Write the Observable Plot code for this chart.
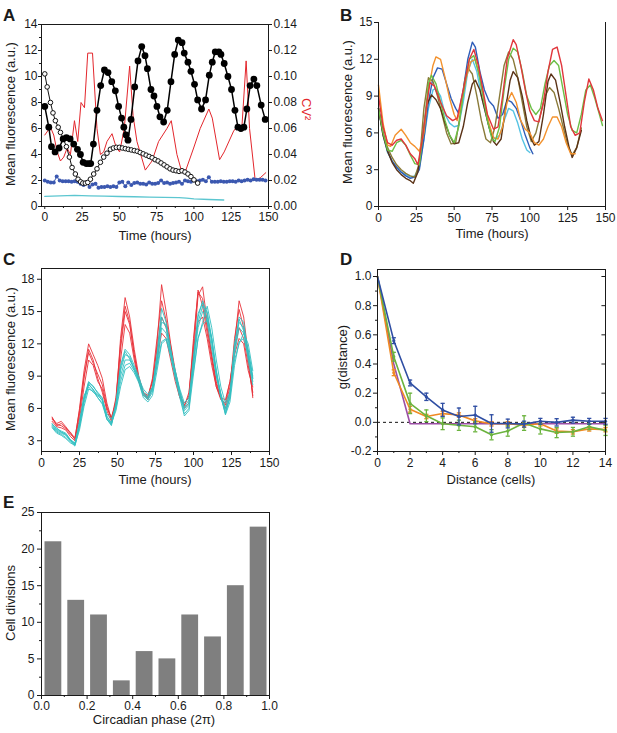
<!DOCTYPE html>
<html><head><meta charset="utf-8">
<script src="https://cdn.jsdelivr.net/npm/d3@7"></script>
<script src="https://cdn.jsdelivr.net/npm/@observablehq/plot@0.6"></script>
<style>
body{margin:0;background:#fff;}
#c{position:relative;width:617px;height:733px;overflow:hidden;background:#fff;}
#c > svg{position:absolute;}
</style></head><body><div id="c"></div>
<script>
// ---------- Panel A ----------
const aBlackT = [0,2.7,4.5,6.9,9.6,12.3,14.5,17.0,19.4,21.9,23.9,25.7,27.9,29.7,30.8,32.6,35.0,37.5,40.0,42.4,44.9,47.3,49.5,51.5,53.0,54.5,55.8,57.8,60.3,62.5,65.0,67.2,68.8,71.2,73.2,75.2,77.2,79.7,82.1,84.6,87.1,89.5,92.0,93.5,96.0,98.0,100.4,102.5,105.1,107.8,110.3,112.3,114.3,116.7,118.1,120.3,122.8,125.2,127.5,129.5,131.5,133.5,135.5,137.7,140.2,142.2,145.1,147.8];
const aBlackV = [7.7,6.1,4.6,4.2,4.5,5.2,5.3,5.2,4.8,4.4,4.0,3.4,3.3,3.3,3.3,4.8,7.4,9.3,10.5,10.3,9.6,8.9,7.7,6.8,6.1,5.5,5.1,6.7,9.2,11.2,12.3,11.6,10.6,9.0,8.5,7.7,6.9,6.5,7.4,9.6,11.7,12.8,12.6,11.8,11.1,10.4,9.4,8.2,7.5,8.2,10.1,11.1,11.9,11.9,11.7,11.0,10.0,9.0,7.4,6.1,6.0,6.1,7.5,9.3,9.8,9.3,7.8,6.7];
const aOpenT = [0,1.6,3.8,5.5,7.1,9,10.5,12.5,14.5,16.5,18.3,20.5,22.3,24,25.5,27.2,28.8,30.6,32.8,35,37.3,39.5,41.7,44,46,48,50,52,54,56,58,60,62,64,66,68,70,72,74,76,78,80,82,84,86,88,90,92,94,96,98,100,102.5];
const aOpenV = [10.2,9.2,8.0,7.2,6.6,6.1,5.7,5.2,4.6,3.8,3.0,2.5,2.1,1.9,1.8,1.8,1.85,2.1,2.5,2.9,3.4,3.8,4.1,4.4,4.5,4.55,4.55,4.5,4.45,4.4,4.35,4.3,4.25,4.15,4.05,3.95,3.85,3.75,3.6,3.5,3.35,3.2,3.05,2.9,2.8,2.75,2.7,2.75,2.65,2.5,2.3,2.05,1.8];
const aBlueT = [0,2,4,6,8,10,12,14,16,18,20,22,24,26,28,30,32,34,36,38,40,42,44,46,48,50,52,54,56,58,60,62,64,66,68,70,72,74,76,78,80,82,84,86,88,90,92,94,96,98,100,102,104,106,108,110,112,114,116,118,120,122,124,126,128,130,132,134,136,138,140,142,144,146,148];
const aBlueV = [2.0,1.9,1.85,1.85,2.3,2.0,1.95,1.95,1.95,1.9,1.95,1.9,1.75,1.65,1.85,1.5,1.7,1.75,1.45,1.5,1.5,1.55,1.5,1.55,1.5,1.85,1.9,1.55,1.85,1.65,1.8,1.85,1.75,1.75,1.7,1.85,1.75,1.75,1.8,2.0,1.8,1.85,1.75,1.8,1.85,1.9,1.75,2.0,1.95,1.9,2.0,1.95,2.0,2.05,1.95,2.25,1.9,1.9,1.9,1.95,1.9,1.9,1.95,1.95,1.9,2.0,1.95,2.0,2.05,2.0,2.1,2.05,2.05,2.05,2.0];
const aCyanT = [0,10,20,30,40,50,60,70,80,90,95,100,110,120];
const aCyanV = [0.78,0.82,0.85,0.82,0.8,0.77,0.75,0.72,0.7,0.68,0.65,0.58,0.54,0.5];
const aRedT = [0,3.8,6,8.3,10.5,12.7,15,17.2,19.9,22.1,24.3,26.6,28.8,32,35,37.3,39.5,41.7,45.1,48,50.2,53.3,56.9,59.2,61.8,67.4,71.9,76.3,81.9,84.8,88.6,91.5,94.6,99.8,104.2,110,112.3,117.2,120.3,126.6,129.2,132.1,135,137.3,141.1,144.4,148.2];
const aRedCV = [0.055,0.061,0.055,0.042,0.035,0.038,0.045,0.04,0.066,0.05,0.08,0.076,0.118,0.118,0.06,0.04,0.042,0.05,0.056,0.045,0.042,0.06,0.108,0.07,0.05,0.028,0.035,0.05,0.06,0.066,0.04,0.028,0.028,0.045,0.06,0.075,0.068,0.036,0.042,0.058,0.062,0.06,0.112,0.06,0.02,0.022,0.026];
const aXTicks = [0,25,50,75,100,125,150];
const aXMinor = [12.5,37.5,62.5,87.5,112.5,137.5];
const aYTicks = [0,2,4,6,8,10,12,14];
const aYMinor = [1,3,5,7,9,11,13];
const aCVTicks = [0,0.02,0.04,0.06,0.08,0.10,0.12,0.14];

// ---------- Panel B ----------
const bRed = [[0,9.0],[3,6.5],[6,5.2],[9,5.0],[12,5.4],[15,5.5],[18,5.0],[21,4.3],[24,3.9],[26,3.4],[29,5.5],[32,8.5],[34,10.1],[37,9.8],[41,8.5],[45,7.4],[49,7.0],[52,7.2],[56,9.5],[60,12.0],[63,12.8],[66,11.5],[69,9.5],[72,7.5],[76,6.3],[79,6.5],[82,9.0],[85,12.0],[89,13.6],[91,13.2],[94,11.5],[97,9.5],[100,7.8],[103,7.0],[106,6.9],[109,8.5],[112,11.0],[115,12.8],[118,13.0],[121,11.5],[124,9.0],[127,6.5],[130,5.8],[133,6.0],[136,8.5],[139,10.4],[142,9.5],[145,8.0],[148,7.0]];
const bGreen = [[0,8.0],[3,6.0],[6,4.6],[9,4.5],[12,5.2],[15,5.4],[18,5.0],[21,4.2],[24,3.5],[27,3.4],[30,6.5],[33,10.0],[35,10.7],[38,10.0],[41,8.5],[44,7.0],[47,5.8],[50,5.2],[53,6.5],[57,10.0],[60,12.0],[63,12.3],[66,11.0],[69,9.0],[72,7.0],[75,5.5],[77,5.3],[80,6.5],[83,9.5],[86,12.0],[89,12.9],[92,12.6],[95,11.0],[98,9.0],[101,8.0],[104,7.5],[107,8.0],[110,10.0],[113,11.5],[116,11.9],[119,11.5],[122,9.5],[125,7.5],[128,6.2],[131,6.0],[134,7.5],[137,9.5],[140,9.9],[143,8.8],[146,7.5],[148,6.6]];
const bBlue = [[0,8.0],[3,6.0],[6,4.5],[9,3.7],[12,3.2],[15,2.8],[18,2.5],[21,2.3],[24,2.4],[27,3.0],[30,5.5],[33,8.5],[36,10.5],[39,11.3],[42,11.2],[45,10.0],[48,8.8],[51,8.0],[53,7.6],[56,9.5],[59,12.0],[62,13.4],[64,13.0],[67,11.0],[70,9.5],[73,8.6],[76,8.2],[79,7.2],[82,7.5],[85,8.7],[88,8.5],[91,8.0],[94,7.0],[97,5.8],[100,4.8],[102,4.3]];
const bCyan = [[0,8.0],[3,5.8],[6,4.4],[9,3.7],[12,3.2],[15,2.8],[18,2.6],[21,2.4],[24,2.5],[27,3.2],[30,5.5],[33,8.0],[36,9.5],[38,9.6],[41,9.0],[44,7.5],[47,6.8],[50,6.5],[53,6.6],[56,8.5],[59,11.0],[62,12.0],[65,11.0],[68,9.0],[71,7.5],[74,6.0],[77,5.5],[80,5.8],[83,7.0],[86,8.0],[89,7.8],[92,6.8],[95,5.5],[98,4.6],[100,4.4]];
const bOrange = [[0,9.9],[3,6.8],[6,5.0],[8,4.9],[11,5.8],[15,6.3],[18,5.8],[21,5.2],[24,4.9],[27,4.5],[30,6.0],[33,9.5],[36,11.5],[38,12.2],[41,12.0],[44,10.5],[47,8.8],[50,7.5],[52,7.0],[55,8.5],[58,10.5],[61,11.8],[64,12.0],[67,10.5],[70,8.5],[73,6.8],[76,5.6],[79,5.5],[82,6.5],[85,8.5],[88,9.3],[91,8.5],[94,7.0],[97,6.3],[100,6.0],[103,5.2],[106,5.0],[109,5.5],[112,6.5],[115,7.3],[118,7.3],[121,6.5],[124,5.2],[127,4.3],[130,4.3]];
const bDarkBrown = [[0,8.0],[3,5.8],[6,4.5],[9,3.6],[12,3.0],[15,2.6],[18,2.3],[21,2.1],[23,1.9],[26,2.8],[29,5.5],[32,8.3],[35,9.1],[38,8.7],[41,8.0],[44,6.8],[47,5.8],[50,5.1],[53,5.2],[56,6.5],[59,8.5],[62,10.0],[64,10.3],[67,9.5],[70,8.0],[73,6.5],[76,5.3],[78,5.0],[81,5.5],[84,8.0],[87,10.3],[89,11.0],[92,10.5],[95,9.0],[98,7.0],[101,5.5],[103,5.0],[106,5.3],[109,7.5],[112,10.2],[114,10.8],[117,10.3],[120,8.5],[123,6.5],[126,4.8],[128,4.0],[131,4.8],[134,6.2]];
const bOlive = [[0,8.0],[3,6.0],[6,4.8],[9,4.0],[12,3.4],[15,3.0],[18,2.7],[21,2.5],[24,2.4],[27,3.5],[30,8.0],[33,10.5],[36,10.2],[39,9.0],[42,7.5],[45,6.0],[48,5.1],[51,5.2],[54,7.5],[57,10.3],[59,11.3],[62,10.8],[65,9.0],[68,7.0],[71,5.5],[74,5.2],[77,6.5],[80,9.0],[83,11.5],[86,12.6],[89,12.0],[92,10.5],[95,8.5],[98,6.5],[101,5.3],[104,6.0],[107,7.5],[110,9.0],[113,9.7],[116,9.3],[119,8.0],[122,6.5],[125,5.0],[128,4.2],[131,4.8],[134,6.4]];
const bXTicks = [0,25,50,75,100,125,150];
const bYTicks = [0,3,6,9,12,15];

// ---------- Panel C ----------
const cT = [7,10,13,16,19,22,25,28,31,34,37,40,43,46,49,52,55,58,61,64,67,70,73,76,79,82,85,88,91,94,97,100,103,106,109,112,115,118,121,124,127,130,133,136,139];
const cRed1 = [5.2,4.4,4.6,4.2,3.8,3.1,6.0,9.5,12.0,11.0,10.0,8.8,6.5,5.0,6.5,12.5,16.3,14.5,11.5,9.0,7.5,6.8,8.0,12.0,17.5,15.0,12.0,9.5,7.5,6.0,6.5,11.0,16.5,17.3,14.0,11.0,8.5,7.0,6.0,7.5,12.0,16.0,14.5,11.0,7.0];
const cRed2 = [4.8,4.3,4.2,4.0,3.4,3.0,5.5,8.8,11.5,10.5,8.8,7.5,5.8,4.8,6.8,11.5,15.0,13.8,11.0,8.5,7.2,7.0,8.5,11.5,14.5,13.5,11.5,9.0,7.0,6.5,7.0,12.0,17.0,15.5,13.0,10.5,8.0,6.8,6.5,8.5,11.5,13.5,12.5,10.0,7.5];
const cRed3 = [5.0,4.5,4.4,4.1,3.6,3.2,5.0,8.0,10.5,10.0,8.5,7.8,6.0,5.2,6.5,10.5,13.8,13.0,10.5,8.5,7.5,7.2,8.5,10.5,13.0,12.5,10.5,8.5,7.0,6.2,7.5,11.5,14.0,14.5,12.5,10.0,8.0,7.0,6.8,8.5,11.0,12.5,12.0,9.5,8.0];
const cRed4 = [5.1,4.6,4.8,4.3,3.7,3.3,5.8,9.0,11.2,10.2,9.2,8.2,6.2,5.0,7.0,12.0,15.5,14.0,11.0,8.8,7.4,7.0,8.8,12.5,16.0,14.2,11.8,9.2,7.2,6.3,7.2,12.5,16.8,16.2,13.5,10.8,8.3,6.9,6.3,8.0,12.5,15.2,13.5,10.5,7.2];
const cCyan1 = [4.6,4.0,3.8,3.6,3.0,2.6,4.5,7.0,8.5,8.0,7.5,7.0,5.0,4.5,6.5,10.0,11.5,11.0,10.0,9.0,7.5,7.0,7.8,11.0,15.3,14.0,11.5,9.5,7.5,6.0,6.5,10.5,14.0,15.5,15.0,12.5,9.5,7.0,5.8,7.0,11.5,14.5,14.0,11.0,8.5];
const cCyan2 = [4.3,3.8,3.6,3.3,2.9,2.5,4.3,6.5,8.2,7.8,7.0,6.5,5.2,4.7,6.0,8.5,10.0,10.2,9.5,8.5,7.2,6.8,7.5,10.0,13.5,13.0,11.0,9.0,7.2,5.5,6.0,10.0,13.5,15.0,14.5,12.5,9.0,7.0,5.5,7.0,11.0,13.5,13.0,11.5,9.0];
const cCyan3 = [4.5,4.1,3.9,3.7,3.1,2.8,4.8,7.2,8.0,7.5,7.2,6.8,5.5,5.0,6.2,9.0,10.5,10.5,9.8,8.8,7.8,7.3,8.0,10.0,12.2,12.5,11.0,9.5,7.8,6.5,7.0,9.5,12.5,14.0,15.5,13.5,10.5,8.0,6.5,7.5,10.5,12.0,13.0,12.0,9.5];
const cCyan4 = [4.4,3.9,3.7,3.5,3.0,2.7,4.4,6.8,8.3,7.7,7.3,6.7,5.0,4.4,6.3,9.5,11.0,10.8,9.7,8.7,7.3,6.9,7.7,10.5,14.5,13.5,11.2,9.2,7.4,5.8,6.3,10.2,14.5,16.0,14.8,12.0,9.3,7.2,5.6,7.2,11.8,14.0,13.5,11.2,8.8];
const cCyan5 = [4.2,3.7,3.5,3.2,2.8,2.6,4.0,6.2,7.8,7.6,7.0,6.4,5.0,4.6,5.8,8.0,9.6,9.9,9.3,8.4,7.0,6.6,7.2,9.5,12.0,12.4,10.8,8.8,7.0,5.3,5.8,9.2,12.5,13.8,14.2,12.5,9.5,7.3,5.4,6.6,10.0,12.2,12.5,11.0,8.8];
const cCyan6 = [4.5,4.2,3.8,3.6,3.1,2.7,4.6,6.9,8.4,8.1,7.4,6.9,5.3,4.6,6.4,9.8,11.3,10.6,9.6,8.6,7.4,7.1,7.9,10.8,14.0,13.8,11.4,9.3,7.6,6.1,6.8,10.8,14.8,15.8,14.0,11.5,9.0,7.4,6.0,7.4,12.0,14.3,13.2,10.5,8.2];
const cXTicks = [0,25,50,75,100,125,150];
const cXMinor = [12.5,37.5,62.5,87.5,112.5,137.5];
const cYTicks = [3,6,9,12,15,18];

// ---------- Panel D ----------
const dX = [0,1,2,3,4,5,6,7,8,9,10,11,12,13,14];
const dBlue = [1.0,0.56,0.27,0.175,0.085,0.04,0.05,-0.008,-0.008,-0.012,0.007,0.0,0.015,0.007,0.007];
const dBlueErr = [0,0.02,0.02,0.025,0.045,0.058,0.06,0.06,0.03,0.02,0.02,0.025,0.02,0.02,0.02];
const dGreen = [1.0,0.45,0.13,0.045,-0.01,-0.02,-0.03,-0.085,-0.06,-0.005,-0.045,-0.07,-0.065,-0.03,-0.055];
const dGreenErr = [0,0.03,0.07,0.04,0.04,0.035,0.035,0.035,0.035,0.05,0.035,0.035,0.03,0.02,0.035];
const dOrange = [1.0,0.34,0.09,0.04,0.06,0.05,0.01,-0.01,-0.01,-0.02,-0.01,-0.06,-0.065,-0.045,-0.05];
const dOrangeErr = [0,0.02,0.02,0.015,0.015,0.015,0.015,0.015,0.015,0.015,0.015,0.015,0.015,0.015,0.015];
const dPurple = [1.0,0.40,-0.01,-0.01,-0.01,-0.01,-0.01,-0.01,-0.01,-0.01,-0.01,-0.01,-0.01,-0.01,-0.01];
const dXTicks = [0,2,4,6,8,10,12,14];
const dXMinor = [1,3,5,7,9,11,13];
const dYTicks = [-0.2,0.0,0.2,0.4,0.6,0.8,1.0];
const dYMinor = [-0.1,0.1,0.3,0.5,0.7,0.9];

// ---------- Panel E ----------
const ePhaseStart = [0.0,0.1,0.2,0.3,0.4,0.5,0.6,0.7,0.8,0.9];
const ePhaseEnd = [0.1,0.2,0.3,0.4,0.5,0.6,0.7,0.8,0.9,1.0];
const eCounts = [21,13,11,2,6,5,11,8,15,23];
const eXTicks = [0,0.2,0.4,0.6,0.8,1.0];
const eXMinor = [0.1,0.3,0.5,0.7,0.9];
const eYTicks = [0,5,10,15,20,25];
const eYMinor = [2.5,7.5,12.5,17.5,22.5];

// ---------- helpers ----------
const FONT = '"Liberation Sans", Arial, Helvetica, sans-serif';
const INK = "#1a1a1a";
const style = {fontFamily: FONT, fontSize: "12px", color: INK, background: "transparent", overflow: "visible"};
const rowsTV = (ts, vs) => ts.map((t, i) => ({t, v: vs[i]}));
const rowsPairs = (ps) => ps.map(([t, v]) => ({t, v}));
const blank = () => "";
const c = document.getElementById("c");
function place(svg, left, top) { svg.style.left = left + "px"; svg.style.top = top + "px"; c.append(svg); }

// ---------- Panel A ----------
const aBlack = rowsTV(aBlackT, aBlackV), aOpen = rowsTV(aOpenT, aOpenV), aBlue = rowsTV(aBlueT, aBlueV), aCyan = rowsTV(aCyanT, aCyanV);
const aRed = aRedT.map((t, i) => ({t, cv: aRedCV[i]}));
place(Plot.plot({
  width: 310, height: 250, marginLeft: 41, marginRight: 42, marginTop: 24, marginBottom: 44,
  style, x: {domain: [-2.2, 150]}, y: {domain: [0, 14]},
  marks: [
    Plot.line(aCyan, {x: "t", y: "v", stroke: "#5cc6d0", strokeWidth: 1.3}),
    Plot.line(aRed, {x: "t", y: d => d.cv * 100, stroke: "#e3262c", strokeWidth: 1}),
    Plot.line(aBlue, {x: "t", y: "v", stroke: "#3b58b0", strokeWidth: 1}),
    Plot.dot(aBlue, {x: "t", y: "v", r: 2, fill: "#3b58b0"}),
    Plot.line(aOpen, {x: "t", y: "v", stroke: "#111", strokeWidth: 1}),
    Plot.dot(aOpen, {x: "t", y: "v", r: 2.3, fill: "white", stroke: "#111", strokeWidth: 1}),
    Plot.line(aBlack, {x: "t", y: "v", stroke: "#000", strokeWidth: 1.5}),
    Plot.dot(aBlack, {x: "t", y: "v", r: 3.4, fill: "#000"}),
    Plot.frame({stroke: INK}),
    Plot.axisX({ticks: aXTicks, tickSize: 3, tickPadding: 3, label: null}),
    Plot.axisX({ticks: aXMinor, tickSize: 2, tickFormat: blank, label: null}),
    Plot.axisY({ticks: aYTicks, tickSize: 3, tickPadding: 1, label: null}),
    Plot.axisY({ticks: aYMinor, tickSize: 2, tickFormat: blank, label: null}),
    Plot.axisY({anchor: "right", ticks: aCVTicks.map(v => v * 100), tickSize: 3, tickPadding: 2, tickFormat: d => (d / 100).toFixed(2), label: null})
  ]
}), 0, 0);

// ---------- Panel B ----------
const bSeries = [
  [bCyan, "#55c3e3"], [bBlue, "#2f5db8"], [bOlive, "#8a7a38"], [bDarkBrown, "#5a3216"],
  [bOrange, "#f3922e"], [bGreen, "#6cbf46"], [bRed, "#e1363c"]
];
place(Plot.plot({
  width: 307, height: 250, marginLeft: 68, marginRight: 12, marginTop: 22, marginBottom: 44,
  style, x: {domain: [0, 150]}, y: {domain: [0, 15]},
  marks: [
    ...bSeries.map(([pts, col]) => Plot.line(rowsPairs(pts), {x: "t", y: "v", stroke: col, strokeWidth: 1.4})),
    Plot.ruleY([0], {stroke: INK}),
    Plot.ruleX([0, 150], {stroke: INK}),
    Plot.axisX({ticks: bXTicks, tickSize: 4, tickPadding: 3, label: null}),
    Plot.axisY({ticks: bYTicks, tickSize: 4, tickPadding: 2, label: null})
  ]
}), 310, 0);

// ---------- Panel C ----------
const cReds = [cRed1, cRed2, cRed3, cRed4], cCyans = [cCyan1, cCyan2, cCyan3, cCyan4, cCyan5, cCyan6];
place(Plot.plot({
  width: 310, height: 240, marginLeft: 41, marginRight: 41, marginTop: 18, marginBottom: 39,
  style, x: {domain: [0, 150]}, y: {domain: [2, 19]},
  marks: [
    ...cReds.map(v => Plot.line(rowsTV(cT, v), {x: "t", y: "v", stroke: "#e8323a", strokeWidth: 0.9})),
    ...cCyans.map(v => Plot.line(rowsTV(cT, v), {x: "t", y: "v", stroke: "#33bfc2", strokeWidth: 0.9})),
    Plot.frame({stroke: INK}),
    Plot.axisX({ticks: cXTicks, tickSize: 4, tickPadding: 3, label: null}),
    Plot.axisX({ticks: cXMinor, tickSize: 2, tickFormat: blank, label: null}),
    Plot.axisY({ticks: cYTicks, tickSize: 4, tickPadding: 3, label: null})
  ]
}), 0, 250);

// ---------- Panel D ----------
const dSeries = [
  [dPurple, null, "#9c4ea6"], [dOrange, dOrangeErr, "#f08a22"], [dGreen, dGreenErr, "#6bb33e"], [dBlue, dBlueErr, "#2f4ea3"]
];
const dMarks = [];
for (const [vals, errs, col] of dSeries) {
  const rows = dX.map((x, i) => ({x, v: vals[i], e: errs ? errs[i] : 0}));
  dMarks.push(Plot.line(rows, {x: "x", y: "v", stroke: col, strokeWidth: 1.6}));
  if (errs) {
    const eb = rows.filter(d => d.e > 0);
    dMarks.push(Plot.ruleX(eb, {x: "x", y1: d => d.v - d.e, y2: d => d.v + d.e, stroke: col, strokeWidth: 1.3}));
    dMarks.push(Plot.link(eb, {x1: d => d.x - 0.13, x2: d => d.x + 0.13, y1: d => d.v + d.e, y2: d => d.v + d.e, stroke: col, strokeWidth: 1.3}));
    dMarks.push(Plot.link(eb, {x1: d => d.x - 0.13, x2: d => d.x + 0.13, y1: d => d.v - d.e, y2: d => d.v - d.e, stroke: col, strokeWidth: 1.3}));
    dMarks.push(Plot.dot(eb, {x: "x", y: "v", r: 1.6, fill: col}));
  }
}
place(Plot.plot({
  width: 307, height: 240, marginLeft: 67, marginRight: 12, marginTop: 19, marginBottom: 39,
  style, x: {domain: [0, 14]}, y: {domain: [-0.2, 1.048]},
  marks: [
    Plot.ruleY([0], {stroke: "#111", strokeDasharray: "3,3", strokeWidth: 1}),
    ...dMarks,
    Plot.frame({stroke: INK}),
    Plot.link(dYTicks, {x1: 14, x2: 13.75, y1: d => d, y2: d => d, stroke: INK}),
    Plot.axisX({ticks: dXTicks, tickSize: 4, tickPadding: 3, label: null}),
    Plot.axisX({ticks: dXMinor, tickSize: 2, tickFormat: blank, label: null}),
    Plot.axisY({ticks: dYTicks, tickSize: 4, tickPadding: 2, tickFormat: d => d.toFixed(1), label: null}),
    Plot.axisY({ticks: dYMinor, tickSize: 2, tickFormat: blank, label: null})
  ]
}), 310, 250);

// ---------- Panel E ----------
const eRows = eCounts.map((n, i) => ({x1: ePhaseStart[i], x2: ePhaseEnd[i], n}));
place(Plot.plot({
  width: 310, height: 243, marginLeft: 41, marginRight: 41, marginTop: 22, marginBottom: 38,
  style, x: {domain: [0, 1]}, y: {domain: [0, 25]},
  marks: [
    Plot.rectY(eRows, {x1: "x1", x2: "x2", y: "n", insetLeft: 3.5, insetRight: 2.5, fill: "#7f7f7f"}),
    Plot.frame({stroke: INK}),
    Plot.axisX({ticks: eXTicks, tickSize: 4, tickPadding: 2, tickFormat: d => d.toFixed(1), label: null}),
    Plot.axisX({ticks: eXMinor, tickSize: 2, tickFormat: blank, label: null}),
    Plot.axisY({ticks: eYTicks, tickSize: 4, tickPadding: 3, label: null}),
    Plot.axisY({ticks: eYMinor, tickSize: 2, tickFormat: blank, label: null})
  ]
}), 0, 490);

// ---------- Text overlay ----------
const ov = d3.select(c).append("svg").attr("width", 617).attr("height", 733)
  .style("left", "0px").style("top", "0px").style("font-family", FONT).style("fill", INK);
const panelLabels = [["A", 3, 21], ["B", 340, 21], ["C", 3, 265], ["D", 340, 265], ["E", 3, 508]];
for (const [t, x, y] of panelLabels) ov.append("text").attr("x", x).attr("y", y).attr("font-size", 17).attr("font-weight", "bold").text(t);
const hTitles = [["Time (hours)", 155, 240], ["Time (hours)", 492, 238], ["Time (hours)", 155, 484], ["Distance (cells)", 491, 484], ["Circadian phase (2π)", 154, 724]];
for (const [t, x, y] of hTitles) ov.append("text").attr("x", x).attr("y", y).attr("font-size", 13).attr("text-anchor", "middle").text(t);
const vTitles = [["Mean fluorescence (a.u.)", 15, 114], ["Mean fluorescence (a.u.)", 352, 112], ["Mean fluorescence (a.u.)", 15, 359], ["g(distance)", 347, 357], ["Cell divisions", 15, 603]];
for (const [t, x, y] of vTitles) ov.append("text").attr("transform", `translate(${x},${y}) rotate(-90)`).attr("font-size", 13).attr("text-anchor", "middle").text(t);
ov.append("text").attr("transform", "translate(302,98) rotate(90)").attr("font-size", 13).attr("fill", "#e3262c").text("CV²");
</script></body></html>
